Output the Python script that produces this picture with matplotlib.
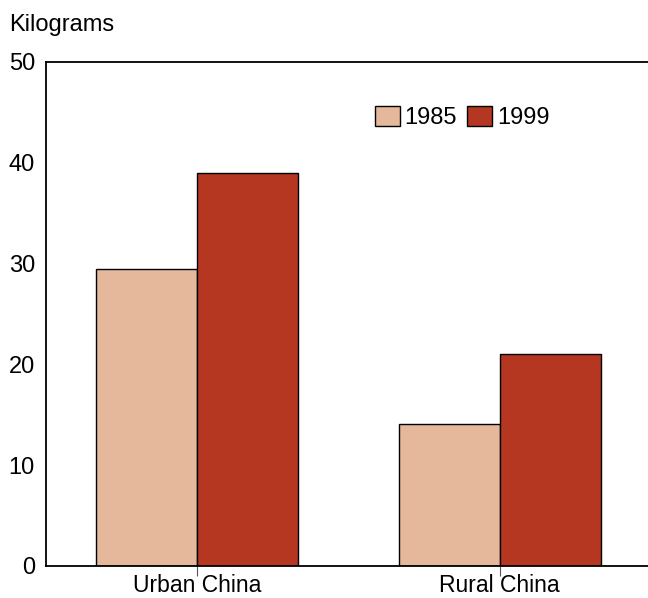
import numpy as np
import matplotlib.pyplot as plt

plt.rcParams['font.family'] = ['Liberation Sans', 'DejaVu Sans']

regions = ['Urban China', 'Rural China']
years = ['1985', '1999']
values_1985 = [29.5, 14.1]
values_1999 = [39.0, 21.0]
colors = ['#E5B79B', '#B53722']

fig = plt.figure(figsize=(6.48, 5.98), dpi=100)
ax = fig.add_axes([46 / 648, 32 / 598, 602 / 648, 504 / 598])

x = np.arange(len(regions))
w = 1 / 3
ax.bar(x - w / 2, values_1985, w, color=colors[0], edgecolor='black', linewidth=1, label=years[0])
ax.bar(x + w / 2, values_1999, w, color=colors[1], edgecolor='black', linewidth=1, label=years[1])

ax.set_xlim(-0.5, 1.49)
ax.set_ylim(0, 50)
ax.set_yticks([0, 10, 20, 30, 40, 50])
ax.set_xticks(x)
ax.set_xticklabels(regions)
ax.tick_params(axis='y', length=0, pad=8, labelsize=17)
ax.tick_params(axis='x', length=7, width=0.8, color='#555555', pad=-1, labelsize=16.5)

ax.spines['right'].set_visible(False)
for s in ['left', 'top', 'bottom']:
    ax.spines[s].set_linewidth(1.3)

fig.text(9 / 648, 1 - 25 / 598, 'Kilograms', fontsize=17, va='center', ha='left')

ax.legend(loc='upper left', bbox_to_anchor=(0.5465, 0.912), ncol=2, frameon=False,
          fontsize=17, handlelength=1.06, handleheight=0.9, handletextpad=0.2,
          columnspacing=0.42, borderpad=0, borderaxespad=0)

fig.savefig('out.png', dpi=100)
